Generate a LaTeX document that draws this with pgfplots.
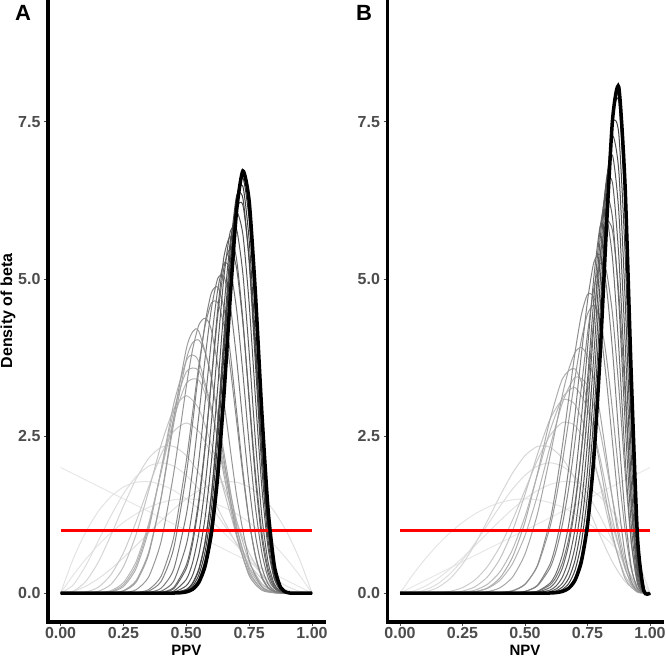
\documentclass[border=0pt]{standalone}
\usepackage{pgfplots}
\pgfplotsset{compat=1.18}
\usepackage{fontspec}
\setmainfont{Liberation Sans}

\pgfplotsset{
  panel/.style={
    scale only axis, height=622pt,
    xmin=-0.05, xmax=1.05, ymin=-0.46, ymax=9.44,
    axis x line*=bottom, axis y line*=left,
    axis line style={line width=3.5pt, line cap=rect},
    xtick={0,0.25,0.5,0.75,1}, xticklabels={0.00,0.25,0.50,0.75,1.00},
    ytick={0,2.5,5,7.5}, yticklabels={0.0,2.5,5.0,7.5},
    tick align=outside, major tick length=4pt,
    tick style={black!70, line width=0.9pt},
    tick label style={font=\bfseries\fontsize{16}{16}\selectfont, text=black!70},
    xticklabel style={inner sep=1.5pt},
    label style={font=\bfseries\fontsize{15}{15}\selectfont},
    xlabel style={at={(axis description cs:0.5,-0.045)}, anchor=center, inner sep=0pt},
    ylabel style={at={(axis description cs:-0.1446,0.5)}, anchor=center, font=\bfseries\fontsize{16}{16}\selectfont},
    no markers,
  },
  gc/.style={smooth, tension=0.4, line width=1pt},
}

\begin{document}
\begin{tikzpicture}
\useasboundingbox (0,0) rectangle (666pt,660pt);

% ---- A: PPV ----
\begin{axis}[panel, at={(48pt,38pt)}, anchor=south west, width=276.6pt,
  xlabel={PPV}, ylabel={Density of beta}]
\addplot[black!9, line width=1pt] coordinates {(0,2) (1,0)};
\addplot[gc, black!10] coordinates {(0,0) (0.05,0.285) (0.1,0.54) (0.15,0.765) (0.2,0.96) (0.25,1.125) (0.3,1.26) (0.35,1.365) (0.4,1.44) (0.45,1.485) (0.5,1.5) (0.55,1.485) (0.6,1.44) (0.65,1.365) (0.7,1.26) (0.75,1.125) (0.8,0.96) (0.85,0.765) (0.9,0.54) (0.95,0.285) (1,0)};
\addplot[gc, black!11] coordinates {(0,0) (0.05,0.542) (0.1,0.972) (0.15,1.301) (0.2,1.536) (0.25,1.688) (0.3,1.764) (0.35,1.775) (0.4,1.728) (0.45,1.634) (0.5,1.5) (0.55,1.337) (0.6,1.152) (0.65,0.956) (0.7,0.756) (0.75,0.563) (0.8,0.384) (0.85,0.23) (0.9,0.108) (0.95,0.029) (1,0)};
\addplot[gc, black!12] coordinates {(0,0) (0.05,0.029) (0.1,0.108) (0.15,0.23) (0.2,0.384) (0.25,0.563) (0.3,0.756) (0.35,0.956) (0.4,1.152) (0.45,1.337) (0.5,1.5) (0.55,1.634) (0.6,1.728) (0.65,1.775) (0.7,1.764) (0.75,1.688) (0.8,1.536) (0.85,1.301) (0.9,0.972) (0.95,0.542) (1,0)};
\addplot[gc, black!13] coordinates {(0,0) (0.05,0.129) (0.1,0.437) (0.15,0.829) (0.2,1.229) (0.25,1.582) (0.3,1.852) (0.35,2.019) (0.4,2.074) (0.45,2.022) (0.5,1.875) (0.55,1.654) (0.6,1.382) (0.65,1.087) (0.7,0.794) (0.75,0.527) (0.8,0.307) (0.85,0.146) (0.9,0.049) (0.95,0.007) (1,0)};
\addplot[gc, black!16] coordinates {(0,0) (0.05,0.029) (0.1,0.184) (0.15,0.493) (0.2,0.918) (0.25,1.384) (0.3,1.815) (0.35,2.143) (0.4,2.322) (0.45,2.335) (0.5,2.188) (0.55,1.91) (0.6,1.548) (0.65,1.154) (0.7,0.778) (0.75,0.461) (0.8,0.229) (0.85,0.087) (0.9,0.02) (0.95,0.002) (1,0)};
\addplot[gc, black!20] coordinates {(0,0) (0.05,0.001) (0.1,0.016) (0.15,0.093) (0.2,0.291) (0.25,0.642) (0.3,1.132) (0.35,1.689) (0.4,2.207) (0.45,2.574) (0.5,2.707) (0.55,2.574) (0.6,2.207) (0.65,1.689) (0.7,1.132) (0.75,0.642) (0.8,0.291) (0.85,0.093) (0.9,0.016) (0.95,0.001) (1,0)};
\addplot[gc, black!24] coordinates {(0,0) (0.05,0) (0.1,0.002) (0.15,0.028) (0.2,0.138) (0.25,0.419) (0.3,0.927) (0.35,1.624) (0.4,2.361) (0.45,2.929) (0.5,3.142) (0.55,2.929) (0.6,2.361) (0.65,1.624) (0.7,0.927) (0.75,0.419) (0.8,0.138) (0.85,0.028) (0.9,0.002) (0.95,0) (1,0)};
\addplot[gc, black!27] coordinates {(0,0) (0.1,0) (0.15,0.005) (0.2,0.038) (0.25,0.167) (0.3,0.497) (0.35,1.1) (0.4,1.925) (0.45,2.77) (0.5,3.34) (0.55,3.387) (0.6,2.892) (0.65,2.042) (0.7,1.158) (0.75,0.502) (0.8,0.151) (0.85,0.026) (0.9,0.002) (0.95,0) (1,0)};
\addplot[gc, black!30] coordinates {(0,0) (0.1,0) (0.15,0.003) (0.2,0.025) (0.25,0.132) (0.3,0.44) (0.35,1.056) (0.4,1.953) (0.45,2.896) (0.5,3.523) (0.55,3.54) (0.6,2.928) (0.65,1.961) (0.7,1.027) (0.75,0.397) (0.8,0.102) (0.85,0.014) (0.9,0.001) (1,0)};
\addplot[gc, black!32] coordinates {(0,0) (0.1,0) (0.15,0.001) (0.2,0.017) (0.25,0.104) (0.3,0.388) (0.35,0.999) (0.4,1.968) (0.45,3.011) (0.5,3.698) (0.525,3.79) (0.55,3.681) (0.6,2.951) (0.65,1.873) (0.7,0.906) (0.75,0.313) (0.8,0.068) (0.85,0.008) (0.9,0) (1,0)};
\addplot[gc, black!35] coordinates {(0,0) (0.15,0) (0.2,0.004) (0.25,0.039) (0.3,0.197) (0.35,0.646) (0.4,1.519) (0.45,2.697) (0.5,3.717) (0.525,3.987) (0.55,4.027) (0.575,3.83) (0.6,3.418) (0.65,2.228) (0.7,1.07) (0.75,0.354) (0.8,0.07) (0.85,0.007) (0.9,0) (1,0)};
\addplot[gc, black!38] coordinates {(0,0) (0.15,0) (0.2,0.003) (0.25,0.031) (0.3,0.173) (0.35,0.614) (0.4,1.524) (0.45,2.79) (0.5,3.885) (0.525,4.158) (0.55,4.166) (0.6,3.428) (0.65,2.117) (0.7,0.94) (0.75,0.277) (0.8,0.047) (0.85,0.004) (0.9,0) (1,0)};
\addplot[gc, black!41] coordinates {(0,0) (0.2,0) (0.25,0.007) (0.3,0.053) (0.35,0.255) (0.4,0.825) (0.45,1.912) (0.5,3.287) (0.525,3.877) (0.55,4.268) (0.575,4.375) (0.6,4.179) (0.65,3.028) (0.7,1.557) (0.75,0.527) (0.8,0.102) (0.85,0.009) (0.9,0) (1,0)};
\addplot[gc, black!45] coordinates {(0,0) (0.25,0) (0.3,0.007) (0.35,0.056) (0.4,0.27) (0.45,0.891) (0.5,2.102) (0.525,2.872) (0.55,3.633) (0.575,4.259) (0.6,4.618) (0.625,4.623) (0.65,4.255) (0.675,3.582) (0.7,2.735) (0.725,1.876) (0.75,1.138) (0.775,0.599) (0.8,0.267) (0.825,0.096) (0.85,0.027) (0.875,0.005) (0.9,0.001) (1,0)};
\addplot[gc, black!49] coordinates {(0,0) (0.25,0) (0.3,0.003) (0.35,0.032) (0.4,0.187) (0.45,0.714) (0.5,1.891) (0.525,2.702) (0.55,3.554) (0.575,4.302) (0.6,4.783) (0.625,4.87) (0.65,4.531) (0.675,3.815) (0.7,2.892) (0.725,1.95) (0.75,1.151) (0.775,0.582) (0.8,0.246) (0.825,0.083) (0.85,0.021) (0.875,0.004) (0.9,0) (1,0)};
\addplot[gc, black!52] coordinates {(0,0) (0.3,0) (0.35,0.01) (0.4,0.079) (0.45,0.381) (0.5,1.245) (0.525,1.962) (0.55,2.832) (0.575,3.743) (0.6,4.531) (0.625,5.008) (0.65,5.038) (0.675,4.577) (0.7,3.732) (0.725,2.699) (0.75,1.704) (0.775,0.921) (0.8,0.414) (0.825,0.148) (0.85,0.04) (0.875,0.007) (0.9,0.001) (1,0)};
\addplot[gc, black!55] coordinates {(0,0) (0.3,0) (0.35,0.003) (0.4,0.031) (0.45,0.19) (0.5,0.768) (0.525,1.335) (0.55,2.115) (0.575,3.056) (0.6,4.027) (0.625,4.831) (0.65,5.254) (0.675,5.15) (0.7,4.513) (0.725,3.501) (0.75,2.368) (0.775,1.366) (0.8,0.654) (0.825,0.249) (0.85,0.071) (0.875,0.014) (0.9,0.002) (1,0)};
\addplot[gc, black!58] coordinates {(0,0) (0.35,0) (0.4,0.012) (0.45,0.09) (0.5,0.448) (0.525,0.859) (0.55,1.495) (0.575,2.361) (0.6,3.39) (0.625,4.41) (0.65,5.19) (0.675,5.484) (0.7,5.169) (0.725,4.301) (0.75,3.113) (0.775,1.917) (0.8,0.977) (0.825,0.395) (0.85,0.119) (0.875,0.024) (0.9,0.003) (1,0)};
\addplot[gc, black!61] coordinates {(0,0) (0.35,0) (0.4,0.008) (0.45,0.07) (0.5,0.392) (0.525,0.787) (0.55,1.423) (0.575,2.321) (0.6,3.411) (0.625,4.513) (0.65,5.36) (0.675,5.675) (0.7,5.312) (0.725,4.345) (0.75,3.059) (0.775,1.809) (0.8,0.875) (0.825,0.329) (0.85,0.09) (0.875,0.016) (0.9,0.002) (1,0)};
\addplot[gc, black!64] coordinates {(0,0) (0.4,0) (0.45,0.032) (0.5,0.218) (0.525,0.483) (0.55,0.958) (0.575,1.708) (0.6,2.732) (0.625,3.924) (0.65,5.043) (0.675,5.755) (0.7,5.79) (0.725,5.083) (0.75,3.83) (0.775,2.418) (0.8,1.246) (0.825,0.499) (0.85,0.145) (0.875,0.028) (0.9,0.003) (1,0)};
\addplot[gc, black!67] coordinates {(0,0) (0.4,0) (0.45,0.014) (0.5,0.117) (0.525,0.284) (0.55,0.619) (0.575,1.206) (0.6,2.102) (0.625,3.274) (0.65,4.549) (0.675,5.602) (0.7,6.062) (0.725,5.709) (0.75,4.605) (0.775,3.105) (0.8,1.702) (0.825,0.725) (0.85,0.225) (0.875,0.046) (0.9,0.005) (0.95,0) (1,0)};
\addplot[gc, black!70] coordinates {(0,0) (0.4,0) (0.45,0.006) (0.5,0.06) (0.525,0.161) (0.55,0.386) (0.575,0.82) (0.6,1.557) (0.625,2.633) (0.65,3.959) (0.675,5.254) (0.7,6.117) (0.725,6.178) (0.75,5.328) (0.775,3.838) (0.8,2.244) (0.825,1.015) (0.85,0.334) (0.875,0.072) (0.9,0.008) (0.95,0) (1,0)};
\addplot[gc, black!73] coordinates {(0,0) (0.4,0) (0.45,0.005) (0.5,0.053) (0.525,0.149) (0.55,0.369) (0.575,0.811) (0.6,1.578) (0.625,2.716) (0.65,4.117) (0.675,5.474) (0.7,6.322) (0.725,6.284) (0.75,5.27) (0.775,3.648) (0.8,2.022) (0.825,0.85) (0.85,0.254) (0.875,0.048) (0.9,0.005) (0.95,0) (1,0)};
\addplot[gc, black!76] coordinates {(0,0) (0.4,0) (0.45,0.003) (0.5,0.038) (0.525,0.111) (0.55,0.289) (0.575,0.663) (0.6,1.346) (0.625,2.413) (0.65,3.804) (0.675,5.249) (0.7,6.297) (0.725,6.475) (0.75,5.618) (0.775,4.019) (0.8,2.3) (0.825,0.998) (0.85,0.307) (0.875,0.06) (0.9,0.006) (0.95,0) (1,0)};
\addplot[gc, black!80] coordinates {(0,0) (0.4,0) (0.45,0.002) (0.5,0.026) (0.525,0.082) (0.55,0.224) (0.575,0.537) (0.6,1.139) (0.625,2.125) (0.65,3.487) (0.675,4.993) (0.7,6.209) (0.725,6.613) (0.75,5.936) (0.775,4.393) (0.8,2.594) (0.825,1.161) (0.85,0.368) (0.875,0.074) (0.9,0.008) (0.95,0) (1,0)};
% uniform prior
\addplot[red, line width=3.5pt] coordinates {(0,1) (1,1)};
% final posterior
\addplot[smooth, tension=0.4, black, line width=3.5pt] coordinates {(0,0) (0.4,0) (0.45,0.001) (0.475,0.005) (0.5,0.019) (0.525,0.06) (0.55,0.172) (0.575,0.433) (0.6,0.957) (0.625,1.861) (0.65,3.174) (0.675,4.721) (0.7,6.086) (0.725,6.719) (0.75,6.24) (0.775,4.763) (0.8,2.904) (0.825,1.34) (0.85,0.438) (0.875,0.091) (0.9,0.01) (0.925,0) (1,0)};
\end{axis}

% ---- B: NPV ----
\begin{axis}[panel, at={(387.5pt,38pt)}, anchor=south west, width=275pt,
  xlabel={NPV}]
\addplot[black!9, line width=1pt] coordinates {(0,0) (1,2)};
\addplot[gc, black!10] coordinates {(0,0) (0.05,0.285) (0.1,0.54) (0.15,0.765) (0.2,0.96) (0.25,1.125) (0.3,1.26) (0.35,1.365) (0.4,1.44) (0.45,1.485) (0.5,1.5) (0.55,1.485) (0.6,1.44) (0.65,1.365) (0.7,1.26) (0.75,1.125) (0.8,0.96) (0.85,0.765) (0.9,0.54) (0.95,0.285) (1,0)};
\addplot[gc, black!11] coordinates {(0,0) (0.05,0.029) (0.1,0.108) (0.15,0.23) (0.2,0.384) (0.25,0.563) (0.3,0.756) (0.35,0.956) (0.4,1.152) (0.45,1.337) (0.5,1.5) (0.55,1.634) (0.6,1.728) (0.65,1.775) (0.7,1.764) (0.75,1.688) (0.8,1.536) (0.85,1.301) (0.9,0.972) (0.95,0.542) (1,0)};
\addplot[gc, black!13] coordinates {(0,0) (0.05,0.007) (0.1,0.049) (0.15,0.146) (0.2,0.307) (0.25,0.527) (0.3,0.794) (0.35,1.087) (0.4,1.382) (0.45,1.654) (0.5,1.875) (0.55,2.022) (0.6,2.074) (0.65,2.019) (0.7,1.852) (0.75,1.582) (0.8,1.229) (0.85,0.829) (0.9,0.437) (0.95,0.129) (1,0)};
\addplot[gc, black!16] coordinates {(0,0) (0.05,0.002) (0.1,0.02) (0.15,0.087) (0.2,0.229) (0.25,0.461) (0.3,0.778) (0.35,1.154) (0.4,1.548) (0.45,1.91) (0.5,2.188) (0.55,2.335) (0.6,2.322) (0.65,2.143) (0.7,1.815) (0.75,1.384) (0.8,0.918) (0.85,0.493) (0.9,0.184) (0.95,0.029) (1,0)};
\addplot[gc, black!20] coordinates {(0,0) (0.05,0) (0.1,0.001) (0.15,0.006) (0.2,0.028) (0.25,0.087) (0.3,0.21) (0.35,0.424) (0.4,0.743) (0.45,1.161) (0.5,1.641) (0.55,2.119) (0.6,2.508) (0.65,2.716) (0.7,2.668) (0.75,2.336) (0.8,1.762) (0.85,1.069) (0.9,0.446) (0.95,0.077) (1,0)};
\addplot[gc, black!24] coordinates {(0,0) (0.1,0) (0.15,0.001) (0.2,0.007) (0.25,0.031) (0.3,0.101) (0.35,0.259) (0.4,0.547) (0.45,0.99) (0.5,1.571) (0.55,2.21) (0.6,2.768) (0.65,3.077) (0.7,3.004) (0.75,2.517) (0.8,1.728) (0.85,0.888) (0.9,0.277) (0.95,0.027) (1,0)};
\addplot[gc, black!27] coordinates {(0,0) (0.15,0) (0.2,0.002) (0.25,0.012) (0.3,0.047) (0.35,0.141) (0.4,0.34) (0.45,0.693) (0.5,1.222) (0.55,1.889) (0.6,2.583) (0.65,3.111) (0.7,3.271) (0.75,2.936) (0.8,2.149) (0.85,1.174) (0.9,0.388) (0.95,0.039) (1,0)};
\addplot[gc, black!29] coordinates {(0,0) (0.2,0) (0.25,0.005) (0.3,0.021) (0.35,0.074) (0.4,0.204) (0.45,0.468) (0.5,0.916) (0.55,1.56) (0.6,2.326) (0.65,3.034) (0.7,3.435) (0.75,3.304) (0.8,2.581) (0.85,1.498) (0.9,0.524) (0.95,0.056) (1,0)};
\addplot[gc, black!32] coordinates {(0,0) (0.2,0) (0.25,0.004) (0.3,0.022) (0.35,0.083) (0.4,0.242) (0.45,0.572) (0.5,1.132) (0.55,1.908) (0.6,2.759) (0.65,3.414) (0.7,3.568) (0.75,3.062) (0.8,2.04) (0.85,0.943) (0.9,0.233) (0.95,0.013) (1,0)};
\addplot[gc, black!35] coordinates {(0,0) (0.25,0) (0.3,0.004) (0.35,0.022) (0.4,0.085) (0.45,0.254) (0.5,0.621) (0.55,1.265) (0.6,2.177) (0.65,3.161) (0.675,3.561) (0.7,3.83) (0.725,3.912) (0.75,3.774) (0.775,3.411) (0.8,2.863) (0.825,2.19) (0.85,1.493) (0.875,0.875) (0.9,0.414) (0.925,0.14) (0.95,0.026) (1,0)};
\addplot[gc, black!40] coordinates {(0,0) (0.35,0) (0.4,0.008) (0.45,0.039) (0.5,0.144) (0.55,0.431) (0.6,1.05) (0.625,1.522) (0.65,2.1) (0.675,2.751) (0.7,3.425) (0.725,4.023) (0.75,4.442) (0.775,4.582) (0.8,4.367) (0.825,3.778) (0.85,2.901) (0.875,1.91) (0.9,1.01) (0.925,0.382) (0.95,0.079) (0.975,0.004) (1,0)};
\addplot[gc, black!44] coordinates {(0,0) (0.35,0) (0.4,0.006) (0.45,0.033) (0.5,0.137) (0.55,0.446) (0.6,1.149) (0.625,1.695) (0.65,2.359) (0.675,3.101) (0.7,3.826) (0.725,4.424) (0.75,4.754) (0.775,4.711) (0.8,4.25) (0.825,3.418) (0.85,2.392) (0.875,1.39) (0.9,0.621) (0.925,0.186) (0.95,0.027) (0.975,0.001) (1,0)};
\addplot[gc, black!47] coordinates {(0,0) (0.45,0) (0.5,0.027) (0.55,0.116) (0.6,0.399) (0.625,0.681) (0.65,1.1) (0.675,1.675) (0.7,2.411) (0.725,3.261) (0.75,4.125) (0.775,4.845) (0.8,5.244) (0.825,5.13) (0.85,4.442) (0.875,3.284) (0.9,1.943) (0.925,0.82) (0.95,0.189) (0.975,0.01) (1,0)};
\addplot[gc, black!50] coordinates {(0,0) (0.4,0) (0.45,0.004) (0.5,0.027) (0.55,0.126) (0.6,0.461) (0.625,0.8) (0.65,1.303) (0.675,1.992) (0.7,2.843) (0.725,3.781) (0.75,4.651) (0.775,5.259) (0.8,5.387) (0.825,4.899) (0.85,3.861) (0.875,2.522) (0.9,1.262) (0.925,0.422) (0.95,0.068) (0.975,0.002) (1,0)};
\addplot[gc, black!53] coordinates {(0,0) (0.45,0) (0.5,0.004) (0.55,0.026) (0.6,0.129) (0.625,0.259) (0.65,0.488) (0.675,0.865) (0.7,1.439) (0.725,2.239) (0.75,3.245) (0.775,4.349) (0.8,5.339) (0.825,5.912) (0.85,5.766) (0.875,4.788) (0.9,3.171) (0.925,1.492) (0.95,0.383) (0.975,0.023) (1,0)};
\addplot[gc, black!57] coordinates {(0,0) (0.45,0) (0.5,0.004) (0.55,0.031) (0.6,0.158) (0.625,0.323) (0.65,0.615) (0.675,1.093) (0.7,1.804) (0.725,2.759) (0.75,3.892) (0.775,5.013) (0.8,5.83) (0.825,6.002) (0.85,5.328) (0.875,3.908) (0.9,2.188) (0.925,0.816) (0.95,0.147) (0.975,0.005) (1,0)};
\addplot[gc, black!60] coordinates {(0,0) (0.5,0) (0.55,0.014) (0.6,0.088) (0.625,0.196) (0.65,0.403) (0.675,0.773) (0.7,1.372) (0.725,2.251) (0.75,3.395) (0.775,4.67) (0.8,5.789) (0.825,6.341) (0.85,5.972) (0.875,4.642) (0.9,2.753) (0.925,1.084) (0.95,0.206) (0.975,0.007) (1,0)};
\addplot[gc, black!63] coordinates {(0,0) (0.5,0) (0.55,0.007) (0.6,0.048) (0.625,0.116) (0.65,0.258) (0.675,0.533) (0.7,1.016) (0.725,1.789) (0.75,2.889) (0.775,4.241) (0.8,5.607) (0.825,6.527) (0.85,6.527) (0.875,5.376) (0.9,3.37) (0.925,1.402) (0.95,0.282) (0.975,0.01) (1,0)};
\addplot[gc, black!66] coordinates {(0,0) (0.55,0) (0.6,0.026) (0.625,0.067) (0.65,0.161) (0.675,0.358) (0.7,0.736) (0.725,1.39) (0.75,2.401) (0.775,3.766) (0.8,5.296) (0.825,6.56) (0.85,6.966) (0.875,6.08) (0.9,4.031) (0.925,1.772) (0.95,0.375) (0.975,0.014) (1,0)};
\addplot[gc, black!69] coordinates {(0,0) (0.55,0) (0.6,0.013) (0.625,0.038) (0.65,0.098) (0.675,0.236) (0.7,0.522) (0.725,1.057) (0.75,1.953) (0.775,3.272) (0.8,4.904) (0.825,6.456) (0.85,7.279) (0.875,6.727) (0.9,4.726) (0.925,2.194) (0.95,0.49) (0.975,0.019) (1,0)};
\addplot[gc, black!73] coordinates {(0,0) (0.55,0) (0.6,0.007) (0.625,0.021) (0.65,0.059) (0.675,0.153) (0.7,0.363) (0.725,0.789) (0.75,1.561) (0.775,2.79) (0.8,4.46) (0.825,6.24) (0.85,7.471) (0.875,7.316) (0.9,5.436) (0.925,2.665) (0.95,0.628) (0.975,0.026) (1,0)};
\addplot[gc, black!77] coordinates {(0,0) (0.55,0) (0.6,0.003) (0.625,0.011) (0.65,0.035) (0.675,0.097) (0.7,0.249) (0.725,0.579) (0.75,1.226) (0.775,2.342) (0.8,3.991) (0.825,5.942) (0.85,7.546) (0.875,7.83) (0.9,6.153) (0.925,3.19) (0.95,0.793) (0.975,0.034) (1,0)};
\addplot[red, line width=3.5pt] coordinates {(0,1) (1,1)};
\addplot[smooth, tension=0.4, black, line width=3.5pt] coordinates {(0,0) (0.55,0) (0.6,0.002) (0.625,0.008) (0.65,0.027) (0.675,0.077) (0.7,0.204) (0.725,0.494) (0.75,1.081) (0.775,2.132) (0.8,3.747) (0.825,5.755) (0.85,7.53) (0.875,8.053) (0.9,6.506) (0.925,3.466) (0.95,0.884) (0.975,0.039) (1,0)};
\end{axis}

\node[anchor=north west, inner sep=0pt, font=\bfseries\fontsize{22}{22}\selectfont] at (15pt,655pt) {A};
\node[anchor=north west, inner sep=0pt, font=\bfseries\fontsize{22}{22}\selectfont] at (356pt,655pt) {B};
\end{tikzpicture}
\end{document}
